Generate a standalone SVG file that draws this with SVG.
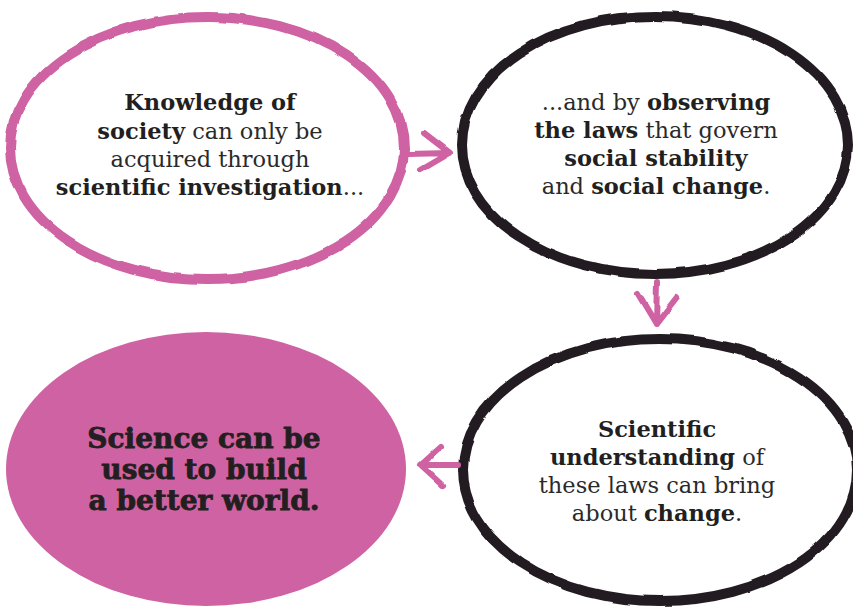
<svg xmlns="http://www.w3.org/2000/svg" width="853" height="610" viewBox="0 0 853 610">
<style>
.t{font-family:"DejaVu Serif","Liberation Serif",serif;font-size:22.5px;fill:#2a2a2a;text-anchor:middle}
.b{font-weight:bold;fill:#231f20}
.big{font-family:"DejaVu Serif","Liberation Serif",serif;font-size:28px;font-weight:900;fill:#231f20;stroke:#231f20;stroke-width:0.8;text-anchor:middle}
.pk{fill:none;stroke:#cf62a3;stroke-width:10;stroke-linecap:round;stroke-linejoin:round}
.bk{fill:none;stroke:#231f20;stroke-width:10}
.ar{fill:none;stroke:#cf62a3;stroke-width:6;stroke-linecap:round;stroke-linejoin:round}
</style>
<defs>
<filter id="rough" x="-5%" y="-5%" width="110%" height="110%">
<feTurbulence type="fractalNoise" baseFrequency="0.03" numOctaves="2" seed="5" result="n"/>
<feDisplacementMap in="SourceGraphic" in2="n" scale="4" xChannelSelector="R" yChannelSelector="G"/>
</filter>
</defs>
<rect width="853" height="610" fill="#ffffff"/>
<g id="node-knowledge">
<ellipse class="pk" cx="207" cy="148" rx="197" ry="131" filter="url(#rough)"/>
<text class="t" x="210" y="110"><tspan class="b">Knowledge of</tspan></text>
<text class="t" x="210" y="139"><tspan class="b">society</tspan> can only be</text>
<text class="t" x="210" y="167">acquired through</text>
<text class="t" x="210" y="195"><tspan class="b">scientific investigation</tspan>...</text>
</g>
<g id="node-observing">
<ellipse class="bk" cx="655" cy="145" rx="193" ry="129" filter="url(#rough)"/>
<text class="t" x="656" y="110">...and by <tspan class="b">observing</tspan></text>
<text class="t" x="656" y="138"><tspan class="b">the laws</tspan> that govern</text>
<text class="t" x="656" y="166"><tspan class="b">social stability</tspan></text>
<text class="t" x="656" y="194">and <tspan class="b">social change</tspan>.</text>
</g>
<g id="node-understanding">
<ellipse class="bk" cx="660" cy="470" rx="197" ry="131" filter="url(#rough)"/>
<text class="t" x="657" y="437"><tspan class="b">Scientific</tspan></text>
<text class="t" x="657" y="465"><tspan class="b">understanding</tspan> of</text>
<text class="t" x="657" y="493">these laws can bring</text>
<text class="t" x="657" y="521">about <tspan class="b">change</tspan>.</text>
</g>
<g id="node-better-world">
<ellipse cx="206" cy="469" rx="200" ry="137" fill="#cf62a3"/>
<text class="big" x="204" y="448">Science can be</text>
<text class="big" x="204" y="479">used to build</text>
<text class="big" x="204" y="510">a better world.</text>
</g>
<g id="connectors" filter="url(#rough)">
<path class="ar" d="M408 154 L450 153 M424 133 L450 153 L421 170"/>
<path class="ar" d="M657 282 L656 324 M638 294 L656 324 L677 297"/>
<path class="ar" d="M458 465 L420 465 M440 447 L420 465 L443 486"/>
</g>
</svg>
